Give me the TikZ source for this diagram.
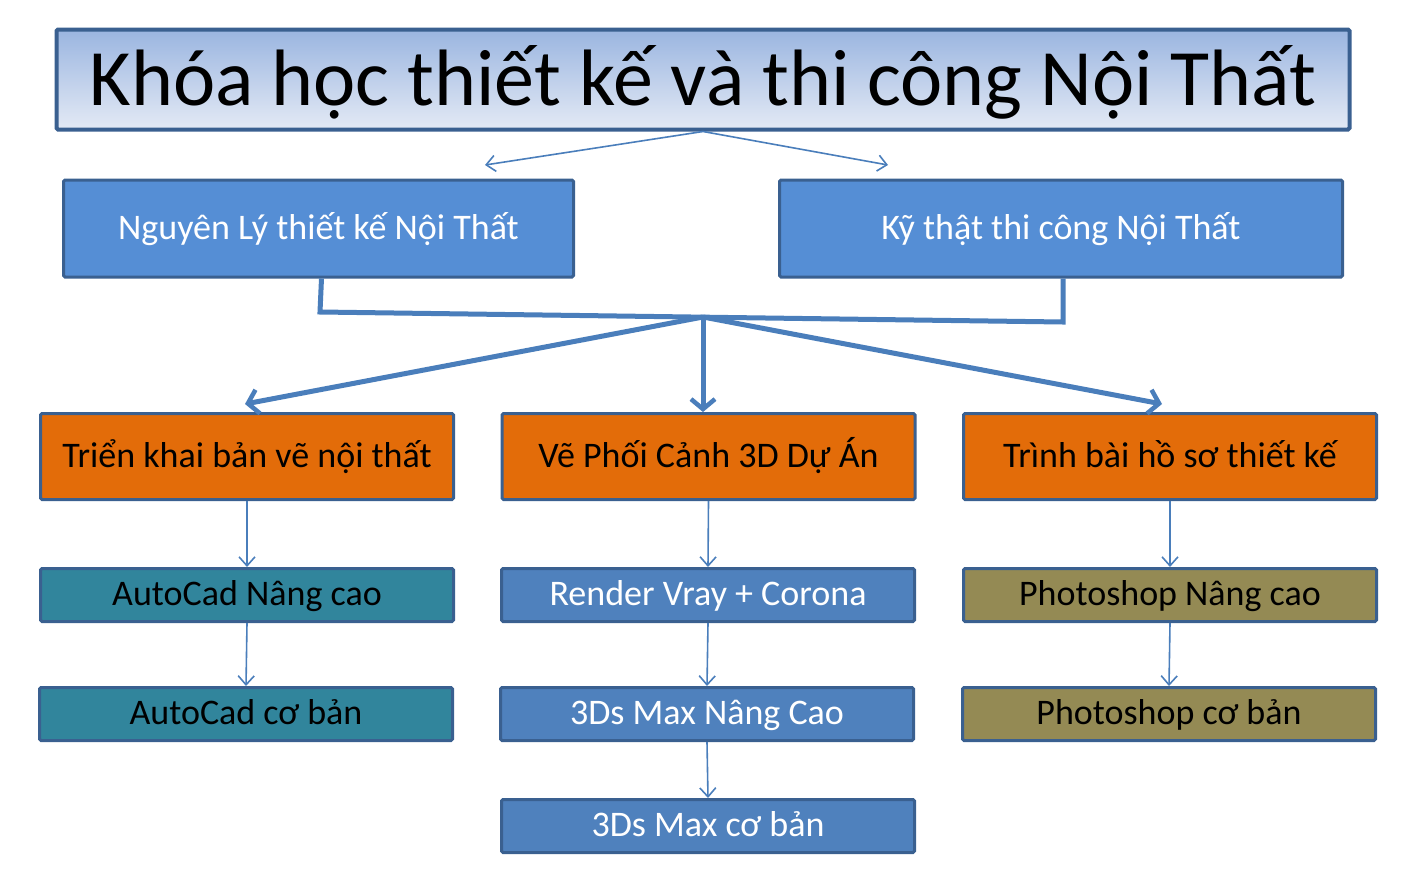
\documentclass[tikz,border=0pt]{standalone}
\usepackage{fontspec}
\setmainfont{Carlito}
\usetikzlibrary{arrows.meta}
\definecolor{bordc}{HTML}{3A6090}
\definecolor{titletop}{HTML}{9AB5E0}
\definecolor{titlebot}{HTML}{E4EAF5}
\definecolor{blueA}{HTML}{558ED5}
\definecolor{orangeA}{HTML}{E36C09}
\definecolor{tealA}{HTML}{31859C}
\definecolor{blueB}{HTML}{4F81BD}
\definecolor{oliveA}{HTML}{948A54}
\definecolor{lineA}{HTML}{4A7EBB}
\tikzset{
  box/.style={draw=bordc, line width=3pt, rounded corners=1.5pt, inner sep=0pt, align=center, text height=30pt, text depth=8pt},
  titlebox/.style={box, line width=4pt, top color=titletop, bottom color=titlebot, minimum width=1293pt, minimum height=100pt, font=\fontsize{80}{84}\selectfont, text height=66pt, text depth=15pt},
  topbox/.style={box, fill=blueA, text=white, minimum height=97pt, font=\fontsize{36}{40}\selectfont},
  orbox/.style={box, fill=orangeA, text=black, minimum width=413pt, minimum height=86pt, font=\fontsize{36}{40}\selectfont},
  smallbox/.style={box, minimum width=413pt, minimum height=53pt, font=\fontsize{36}{40}\selectfont, text height=28pt, text depth=8pt},
  thinarrow/.style={draw=lineA, line width=1.6pt, -{Straight Barb[length=9pt,width=16pt,line width=1.6pt]}},
  thickline/.style={draw=lineA, line width=5pt},
  thickarrow/.style={draw=lineA, line width=5pt, -{Straight Barb[length=10pt,width=24pt,line width=4.5pt]}}
}
\begin{document}
\begin{tikzpicture}[x=1pt,y=-1pt]
\useasboundingbox (0,0) rectangle (1409,887);
% title
\node[titlebox] (title) at (703,79.5) {Khóa học thiết kế và thi công Nội Thất};
% second row
\node[topbox, minimum width=510pt] (nguyen) at (318.5,228.5) {Nguyên Lý thiết kế Nội Thất};
\node[topbox, minimum width=563pt] (kythat) at (1061,228.5) {Kỹ thật thi công Nội Thất};
% orange row
\node[orbox] (trienkhai) at (247,456.5) {Triển khai bản vẽ nội thất};
\node[orbox] (vephoi) at (708.5,456.5) {Vẽ Phối Cảnh 3D Dự Án};
\node[orbox] (trinhbai) at (1170,456.5) {Trình bài hồ sơ thiết kế};
% lower rows
\node[smallbox, fill=tealA, text=black] (acadnc) at (247,595) {AutoCad Nâng cao};
\node[smallbox, fill=blueB, text=white] (render) at (708,595) {Render Vray + Corona};
\node[smallbox, fill=oliveA, text=black] (psnc) at (1170,595) {Photoshop Nâng cao};
\node[smallbox, fill=tealA, text=black] (acadcb) at (246,714) {AutoCad cơ bản};
\node[smallbox, fill=blueB, text=white] (maxnc) at (707,714) {3Ds Max Nâng Cao};
\node[smallbox, fill=oliveA, text=black] (pscb) at (1169,714) {Photoshop cơ bản};
\node[smallbox, fill=blueB, text=white] (maxcb) at (708,826) {3Ds Max cơ bản};
% title arrows
\coordinate (tl) at (485,165);
\coordinate (tr) at (888,165);
\draw[thinarrow] (title.south) -- (tl);
\draw[thinarrow] (title.south) -- (tr);
% thick bracket
\coordinate (bl) at (320,312);
\coordinate (br) at (1063,322);
\coordinate (hub) at (703,317);
\draw[thickline] ([xshift=1.5pt]nguyen.south west -| bl) -- (bl) -- (br) -- (br |- kythat.south);
\draw[thickarrow] (hub) -- (245,404);
\draw[thickarrow] (hub) -- (vephoi.north -| hub);
\draw[thickarrow] (hub) -- (1162,404);
% thin vertical arrows
\draw[thinarrow] (trienkhai.south) -- (acadnc.north);
\draw[thinarrow] (acadnc.south) -- (acadcb.north);
\draw[thinarrow] (vephoi.south) -- (render.north);
\draw[thinarrow] (render.south) -- (maxnc.north);
\draw[thinarrow] (maxnc.south) -- (maxcb.north);
\draw[thinarrow] (trinhbai.south) -- (psnc.north);
\draw[thinarrow] (psnc.south) -- (pscb.north);
\end{tikzpicture}
\end{document}
